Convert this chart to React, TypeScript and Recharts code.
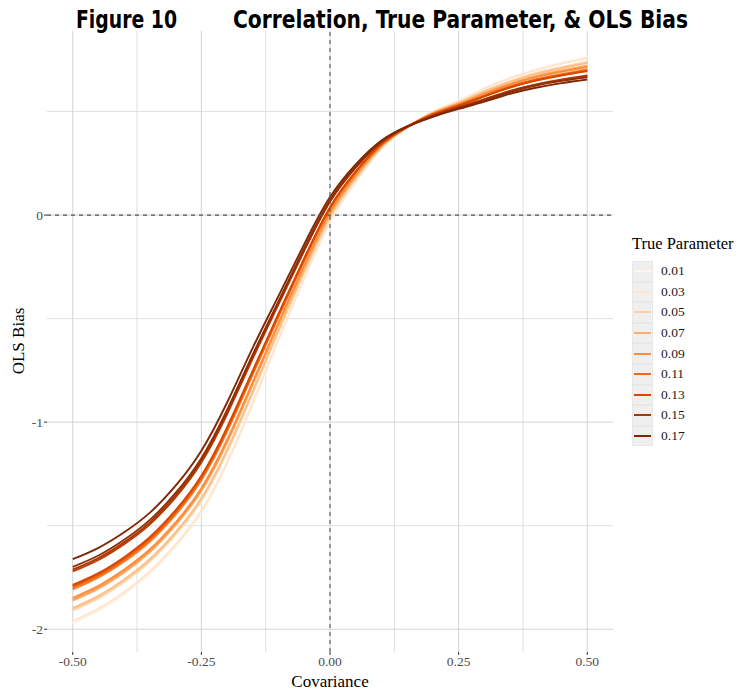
import React from "react";
import { LineChart, Line, XAxis, YAxis, CartesianGrid, ReferenceLine } from "recharts";

// Covariance values (x)
const covariance = [-0.5, -0.45, -0.4, -0.35, -0.3, -0.25, -0.2, -0.15, -0.1, -0.05, 0, 0.05, 0.1, 0.15, 0.2, 0.25, 0.3, 0.35, 0.4, 0.45, 0.5];

// OLS bias by true parameter
const p01 = [-1.972, -1.912, -1.832, -1.732, -1.602, -1.44, -1.205, -0.915, -0.605, -0.31, -0.035, 0.16, 0.32, 0.423, 0.5, 0.553, 0.613, 0.663, 0.704, 0.736, 0.763];
const p02 = [-1.966, -1.906, -1.826, -1.726, -1.596, -1.434, -1.199, -0.91, -0.601, -0.307, -0.033, 0.162, 0.321, 0.423, 0.5, 0.552, 0.612, 0.662, 0.702, 0.734, 0.761];
const p03 = [-1.96, -1.9, -1.82, -1.72, -1.59, -1.428, -1.193, -0.904, -0.596, -0.303, -0.03, 0.163, 0.322, 0.423, 0.499, 0.551, 0.61, 0.66, 0.7, 0.731, 0.757];
const p04 = [-1.91, -1.851, -1.772, -1.673, -1.543, -1.38, -1.145, -0.86, -0.562, -0.276, -0.011, 0.177, 0.328, 0.424, 0.495, 0.544, 0.599, 0.647, 0.686, 0.715, 0.741];
const p05 = [-1.904, -1.845, -1.766, -1.667, -1.537, -1.374, -1.139, -0.855, -0.558, -0.273, -0.008, 0.179, 0.329, 0.424, 0.495, 0.543, 0.597, 0.645, 0.683, 0.712, 0.737];
const p06 = [-1.898, -1.839, -1.76, -1.661, -1.531, -1.368, -1.133, -0.849, -0.553, -0.269, -0.006, 0.18, 0.33, 0.424, 0.494, 0.542, 0.596, 0.643, 0.681, 0.709, 0.734];
const p07 = [-1.862, -1.804, -1.726, -1.627, -1.497, -1.333, -1.099, -0.817, -0.529, -0.25, 0.008, 0.19, 0.334, 0.425, 0.491, 0.538, 0.589, 0.634, 0.671, 0.698, 0.721];
const p08 = [-1.856, -1.798, -1.72, -1.621, -1.491, -1.327, -1.093, -0.812, -0.524, -0.246, 0.011, 0.192, 0.335, 0.425, 0.491, 0.537, 0.587, 0.632, 0.669, 0.695, 0.718];
const p09 = [-1.848, -1.79, -1.712, -1.614, -1.484, -1.319, -1.085, -0.805, -0.519, -0.242, 0.014, 0.194, 0.336, 0.425, 0.49, 0.536, 0.585, 0.63, 0.666, 0.692, 0.715];
const p10 = [-1.808, -1.75, -1.673, -1.576, -1.446, -1.28, -1.046, -0.769, -0.491, -0.22, 0.03, 0.205, 0.341, 0.426, 0.487, 0.531, 0.577, 0.621, 0.656, 0.681, 0.703];
const p11 = [-1.798, -1.741, -1.664, -1.567, -1.437, -1.271, -1.037, -0.761, -0.485, -0.215, 0.033, 0.208, 0.342, 0.426, 0.486, 0.53, 0.575, 0.619, 0.653, 0.678, 0.7];
const p12 = [-1.792, -1.735, -1.658, -1.561, -1.431, -1.265, -1.031, -0.756, -0.48, -0.211, 0.036, 0.209, 0.343, 0.426, 0.486, 0.529, 0.574, 0.617, 0.651, 0.676, 0.697];
const p13 = [-1.786, -1.729, -1.652, -1.555, -1.425, -1.259, -1.025, -0.75, -0.476, -0.208, 0.038, 0.211, 0.344, 0.426, 0.485, 0.528, 0.573, 0.616, 0.649, 0.674, 0.695];
const p14 = [-1.721, -1.665, -1.589, -1.493, -1.363, -1.195, -0.962, -0.692, -0.431, -0.172, 0.064, 0.229, 0.352, 0.427, 0.48, 0.521, 0.56, 0.6, 0.631, 0.655, 0.674];
const p15 = [-1.712, -1.656, -1.58, -1.484, -1.354, -1.186, -0.953, -0.684, -0.424, -0.167, 0.067, 0.231, 0.354, 0.427, 0.479, 0.519, 0.558, 0.598, 0.629, 0.652, 0.671];
const p16 = [-1.699, -1.644, -1.568, -1.472, -1.342, -1.174, -0.941, -0.673, -0.416, -0.16, 0.072, 0.235, 0.355, 0.427, 0.478, 0.517, 0.555, 0.595, 0.626, 0.648, 0.666];
const p17 = [-1.662, -1.607, -1.532, -1.437, -1.307, -1.138, -0.905, -0.64, -0.39, -0.14, 0.087, 0.245, 0.36, 0.428, 0.475, 0.513, 0.548, 0.586, 0.615, 0.637, 0.655];

const seriesNames = ["0.01", "0.02", "0.03", "0.04", "0.05", "0.06", "0.07", "0.08", "0.09", "0.10", "0.11", "0.12", "0.13", "0.14", "0.15", "0.16", "0.17"];
const seriesValues = [p01, p02, p03, p04, p05, p06, p07, p08, p09, p10, p11, p12, p13, p14, p15, p16, p17];
const seriesColors = ["#fff5eb", "#feeedc", "#fee6ce", "#fddbb8", "#fdd0a2", "#fdbf86", "#fdae6b", "#fd9e54", "#fd8d3c", "#f77b28", "#f16913", "#e5580a", "#d94801", "#c03f02", "#a63603", "#922e03", "#7f2704"];

const legendLabels = ["0.01", "0.03", "0.05", "0.07", "0.09", "0.11", "0.13", "0.15", "0.17"];
const legendColors = ["#fff5eb", "#fee6ce", "#fdd0a2", "#fdae6b", "#fd8d3c", "#f16913", "#d94801", "#a63603", "#7f2704"];

const xTicks = [-0.5, -0.25, 0, 0.25, 0.5];
const xMinor = [-0.375, -0.125, 0.125, 0.375];
const yTicks = [-2, -1, 0];
const yMinor = [-1.5, -0.5, 0.5];

const rows = covariance.map((x, i) => {
  const r: Record<string, number> = { x };
  seriesNames.forEach((n, k) => {
    r["p" + n] = seriesValues[k][i];
  });
  return r;
});

const serif = "'Liberation Serif', 'Times New Roman', serif";

export default function App() {
  return (
    <div style={{ position: "absolute", left: 0, top: 0, width: 745, height: 691, background: "#fff" }}>
      <LineChart width={745} height={691} data={rows} margin={{ top: 31, right: 132, bottom: 0, left: 0 }}>
        <CartesianGrid horizontalValues={yMinor} verticalValues={xMinor} stroke="#dcdcdc" strokeWidth={0.9} />
        <CartesianGrid horizontalValues={yTicks} verticalValues={xTicks} stroke="#d3d3d3" strokeWidth={1} />
        <XAxis
          dataKey="x"
          type="number"
          domain={[-0.55, 0.55]}
          ticks={xTicks}
          tickFormatter={(v: number) => v.toFixed(2)}
          height={39}
          axisLine={false}
          tickLine={{ stroke: "#333" }}
          tickSize={3}
          tickMargin={1}
          allowDataOverflow
          interval={0}
          tick={{ fontFamily: serif, fontSize: 13.5, fill: "#4d4d4d" }}
        />
        <YAxis
          type="number"
          domain={[-2.11, 0.889]}
          ticks={yTicks}
          width={47}
          axisLine={false}
          tickLine={{ stroke: "#333" }}
          tickSize={3}
          tickMargin={1}
          allowDataOverflow
          interval={0}
          tick={{ fontFamily: serif, fontSize: 13.5, fill: "#4d4d4d" }}
        />
        {seriesNames.map((n, k) => (
          <Line
            key={n}
            dataKey={"p" + n}
            type="natural"
            stroke={seriesColors[k]}
            strokeWidth={1.9}
            dot={false}
            isAnimationActive={false}
          />
        ))}
        <ReferenceLine y={0} stroke="#555" strokeDasharray="4 4" strokeWidth={1.1} />
        <ReferenceLine x={0} stroke="#555" strokeDasharray="4 4" strokeWidth={1.1} />
      </LineChart>

      <svg width={745} height={691} style={{ position: "absolute", left: 0, top: 0, pointerEvents: "none" }}>
        <text x={76} y={28} fontFamily="'Liberation Sans Narrow', 'DejaVu Sans Condensed', 'Liberation Sans', sans-serif" fontWeight="bold" fontSize={24} textLength={101} lengthAdjust="spacingAndGlyphs" fill="#000">Figure 10</text>
        <text x={233} y={28} fontFamily="'Liberation Sans Narrow', 'DejaVu Sans Condensed', 'Liberation Sans', sans-serif" fontWeight="bold" fontSize={24} textLength={455} lengthAdjust="spacingAndGlyphs" fill="#000">Correlation, True Parameter, &amp; OLS Bias</text>
        <text x={330} y={687} textAnchor="middle" fontFamily={serif} fontSize={17} fill="#000">Covariance</text>
        <text x={0} y={0} transform="translate(24,341) rotate(-90)" textAnchor="middle" fontFamily={serif} fontSize={17} fill="#000">OLS Bias</text>
      </svg>

      <div style={{ position: "absolute", left: 632, top: 234, fontFamily: serif, color: "#000" }}>
        <div style={{ fontSize: 16.5, lineHeight: "20px", whiteSpace: "nowrap", marginBottom: 7 }}>True Parameter</div>
        {legendLabels.map((l, i) => (
          <div key={l} style={{ display: "flex", alignItems: "center", height: 20.6 }}>
            <div style={{ width: 21, height: 20.6, background: "#efefef", boxShadow: "inset 0 0 0 0.5px #e2e2e2", position: "relative" }}>
              <div style={{ position: "absolute", left: 2, right: 2, top: 9.3, height: 2, background: legendColors[i] }} />
            </div>
            <div style={{ marginLeft: 8, fontSize: 13.5, color: "#1a1a1a" }}>{l}</div>
          </div>
        ))}
      </div>
    </div>
  );
}
